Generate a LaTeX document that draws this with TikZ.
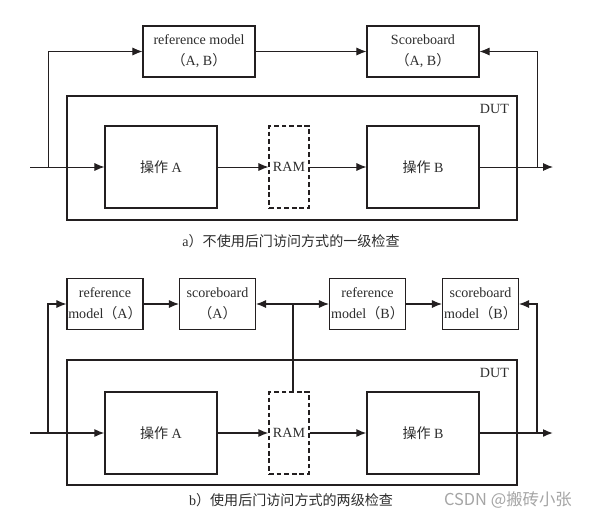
\documentclass[tikz,border=0pt]{standalone}
\usepackage{fontspec}
\setmainfont{Liberation Serif}
\newfontfamily\cjk{Noto Sans CJK SC}
\usetikzlibrary{arrows.meta,positioning}
\definecolor{lineDark}{RGB}{35,31,32}
\definecolor{textGray}{RGB}{45,45,45}
\definecolor{markGray}{RGB}{165,165,165}

\begin{document}
\begin{tikzpicture}[x=0.03cm,y=-0.03cm,
  every node/.style={font=\fontsize{12}{18}\selectfont, text=textGray},
  block/.style={draw=lineDark, line width=0.9pt, minimum width=3.36cm, minimum height=2.46cm, inner sep=0pt},
  model/.style={draw=lineDark, line width=0.9pt, minimum width=3.36cm, minimum height=1.53cm, align=center, inner sep=0pt},
  smallmodel/.style={model, minimum width=2.28cm},
  ramblock/.style={draw=lineDark, dash pattern=on 4pt off 2.5pt, line width=0.9pt, minimum width=1.2cm, minimum height=2.46cm, inner sep=0pt},
  dutbox/.style={draw=lineDark, line width=0.9pt, minimum width=13.5cm, inner sep=0pt},
  sig/.style={draw=lineDark, line width=0.8pt, -{Latex[length=3mm,width=2.4mm]}},
  wire/.style={draw=lineDark, line width=0.9pt},
  bus/.style={draw=lineDark, line width=1.3pt, -{Latex[length=3mm,width=2.4mm]}},
  side/.style={draw=lineDark, line width=0.9pt, -{Latex[length=3mm,width=2.4mm]}}
]
\useasboundingbox[fill=white] (0,0) rectangle (591,518);

% a) single-level check
\node[dutbox, minimum height=3.72cm] (dut1) at (292,158) {};
\node[anchor=north east] (dutlab1) at (513,100) {DUT};
\node[model] (refAB) at (199,51.5) {reference model\\{\cjk （}A, B{\cjk ）}};
\node[model] (sbAB) at (423,51.5) {Scoreboard\\{\cjk （}A, B{\cjk ）}};
\node[block] (opA1) at (161,167) {{\cjk 操作} A};
\node[ramblock] (ram1) at (289,167) {RAM};
\node[block] (opB1) at (423,167) {{\cjk 操作} B};
\coordinate (in1) at (30,167);
\coordinate (split1) at (48,167);
\coordinate (out1) at (553,167);
\coordinate (merge1) at (537,167);

\draw[sig] (in1) -- (opA1.west);
\draw[sig] (split1) |- (refAB.west);
\draw[sig] (refAB.east) -- (sbAB.west);
\draw[sig] (opA1.east) -- (ram1.west);
\draw[sig] (ram1.east) -- (opB1.west);
\draw[sig] (opB1.east) -- (out1);
\draw[sig] (merge1) |- (sbAB.east);

\node (capA) at (291,241) {a{\cjk ）不使用后门访问方式的一级检查}};

% b) two-level check
\node[dutbox, minimum height=3.75cm] (dut2) at (292,422.5) {};
\node[anchor=north east] (dutlab2) at (513,364) {DUT};
\node[smallmodel] (refA) at (105,304) {reference\\model{\cjk （}A{\cjk ）}};
\node[smallmodel] (sbA) at (217.5,304) {scoreboard\\{\cjk （}A{\cjk ）}};
\node[smallmodel] (refB) at (367.5,304) {reference\\model{\cjk （}B{\cjk ）}};
\node[smallmodel] (sbB) at (480.5,304) {scoreboard\\model{\cjk （}B{\cjk ）}};
\node[block] (opA2) at (161,433) {{\cjk 操作} A};
\node[ramblock] (ram2) at (289,433) {RAM};
\node[block] (opB2) at (423,433) {{\cjk 操作} B};
\coordinate (in2) at (30,433);
\coordinate (split2) at (48,433);
\coordinate (out2) at (553,433);
\coordinate (merge2) at (537,433);
\coordinate (tap) at (293,304);

\draw[bus] (in2) -- (opA2.west);
\draw[bus] (opA2.east) -- (ram2.west);
\draw[bus] (ram2.east) -- (opB2.west);
\draw[bus] (opB2.east) -- (out2);
\draw[side] (split2) |- (refA.west);
\draw[side] (refA.east) -- (sbA.west);
\draw[wire] (ram2.north -| tap) -- (tap);
\draw[side] (tap) -- (sbA.east);
\draw[side] (tap) -- (refB.west);
\draw[side] (refB.east) -- (sbB.west);
\draw[side] (merge2) |- (sbB.east);

\node (capB) at (291,500) {b{\cjk ）使用后门访问方式的两级检查}};
\node[font=\cjk\fontsize{14}{16}\selectfont, text=markGray] (mark) at (508,500) {CSDN @搬砖小张};
\end{tikzpicture}
\end{document}
